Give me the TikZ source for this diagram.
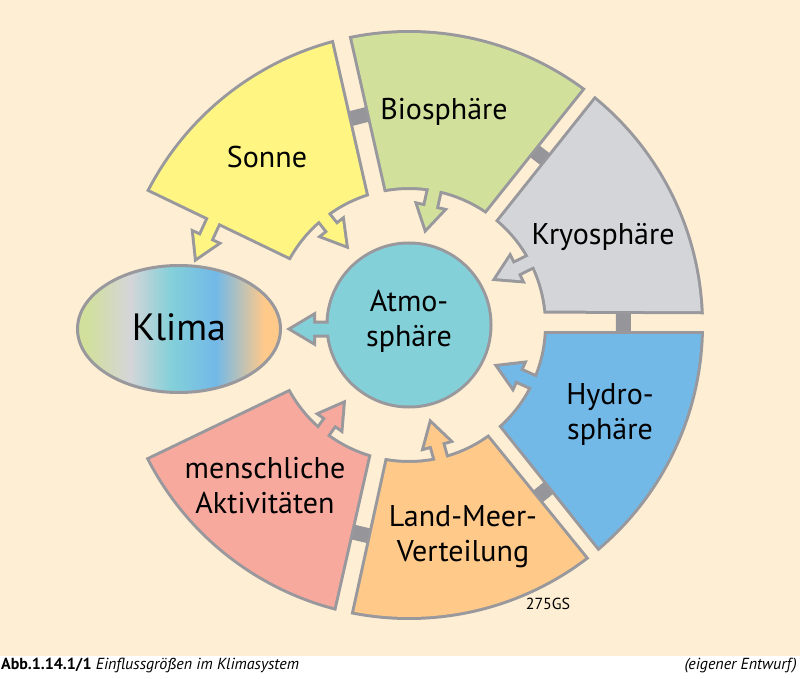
\documentclass[tikz,border=0pt]{standalone}
\usepackage{fontspec}
\setmainfont{PT Sans}
\usetikzlibrary{calc}
\definecolor{bgc}{RGB}{254,238,212}
\definecolor{sonnec}{RGB}{255,245,130}
\definecolor{bioc}{RGB}{209,224,155}
\definecolor{kryoc}{RGB}{212,213,217}
\definecolor{hydroc}{RGB}{114,185,232}
\definecolor{landc}{RGB}{255,201,138}
\definecolor{menschc}{RGB}{247,169,158}
\definecolor{atmoc}{RGB}{132,208,217}
\definecolor{edgec}{RGB}{152,152,157}
\definecolor{barc}{RGB}{150,150,154}
\pgfdeclarehorizontalshading{klimashade}{100bp}{color(0bp)=(bioc); color(27bp)=(bioc); color(38bp)=(kryoc); color(48bp)=(atmoc); color(59bp)=(hydroc); color(71bp)=(landc); color(100bp)=(landc)}
% sector: outer start, outer end, inner start, inner end (image angles)
\newcommand\secpath[4]{($(C)+(#1:292)$) arc[start angle=#1, end angle=#2, radius=292] -- ($(C)+(#3:138)$) arc[start angle=#3, end angle=#4, radius=138] -- cycle}
% arrow: base, tip
\newcommand\arrp[2]{($(#1)!5.5pt!90:(#2)$) -- ($(#2)!25pt!(#1)!5.5pt!90:(#2)$) -- ($(#2)!25pt!(#1)!12.5pt!90:(#2)$) -- ($(#2)!4pt!(#1)$) -- ($(#2)!25pt!(#1)!12.5pt!-90:(#2)$) -- ($(#2)!25pt!(#1)!5.5pt!-90:(#2)$) -- ($(#1)!5.5pt!-90:(#2)$) -- cycle}
\tikzset{
  outl/.style={draw=edgec, line width=6pt, line join=miter},
  lab/.style={font=\fontsize{30}{35}\selectfont, align=center, text=black, inner sep=0pt},
}
\begin{document}
\begin{tikzpicture}[x=1pt,y=-1pt]
\useasboundingbox (0,0) rectangle (800,679);
\fill[bgc] (0,0) rectangle (800,656);
\fill[white] (0,656) rectangle (800,679);
\coordinate (C) at (409,325);
% connecting bars
\foreach \a in {-104.3,-52.4,-0.7,51,103.3}
  \draw[barc, line width=15pt] ($(C)+({\a-7}:216)$) -- ($(C)+({\a+7}:216)$);
% Sonne
\draw[outl] \secpath{-152.4}{-105.4}{-108.3}{-150.3};
\draw[outl] \arrp{218,211}{195,261};
\draw[outl] \arrp{317,209}{348,248};
\fill[sonnec] \secpath{-152.4}{-105.4}{-108.3}{-150.3};
\fill[sonnec] \arrp{218,211}{195,261};
\fill[sonnec] \arrp{317,209}{348,248};
% Biosphaere
\draw[outl] \secpath{-101.2}{-53.8}{-56.5}{-99.5};
\draw[outl] \arrp{437,178}{425,232};
\fill[bioc] \secpath{-101.2}{-53.8}{-56.5}{-99.5};
\fill[bioc] \arrp{437,178}{425,232};
% Kryosphaere
\draw[outl] \secpath{-50.4}{-2.7}{-6.0}{-49.2};
\draw[outl] \arrp{542,256}{493,280};
\fill[kryoc] \secpath{-50.4}{-2.7}{-6.0}{-49.2};
\fill[kryoc] \arrp{542,256}{493,280};
% Hydrosphaere
\draw[outl] \secpath{1.8}{49.5}{47.4}{3.8};
\draw[outl] \arrp{544,387}{495,365};
\fill[hydroc] \secpath{1.8}{49.5}{47.4}{3.8};
\fill[hydroc] \arrp{544,387}{495,365};
% Land-Meer
\draw[outl] \secpath{52.9}{100.8}{99.1}{55.1};
\draw[outl] \arrp{444,470}{430,420};
\fill[landc] \secpath{52.9}{100.8}{99.1}{55.1};
\fill[landc] \arrp{444,470}{430,420};
% menschliche Aktivitaeten
\draw[outl] \secpath{104.9}{152.6}{150.7}{107.3};
\draw[outl] \arrp{315,443}{345,401};
\fill[menschc] \secpath{104.9}{152.6}{150.7}{107.3};
\fill[menschc] \arrp{315,443}{345,401};
% Atmosphaere
\draw[outl] (C) circle[radius=80.5];
\draw[outl] \arrp{335,329}{288,329};
\fill[atmoc] (C) circle[radius=80.5];
\fill[atmoc] \arrp{335,329}{288,329};
% Klima
\path[shade, shading=klimashade, draw=edgec, line width=3pt] (179,329) ellipse[x radius=101.5, y radius=63.5];
% labels
\node[lab] (sonne) at (267,157) {Sonne};
\node[lab] (bio) at (444,112) {Biosphäre};
\node[lab] (kryo) at (603,237) {Kryosphäre};
\node[lab] (hydro) at (610,414) {Hydro-\\sphäre};
\node[lab] (land) at (463,537) {Land-Meer-\\Verteilung};
\node[lab] (mensch) at (265,486) {menschliche\\Aktivitäten};
\node[lab] (atmo) at (409,321) {Atmo-\\sphäre};
\node[font=\fontsize{38}{40}\selectfont, inner sep=0pt] (klima) at (179,327) {Klima};
\node[font=\fontsize{16}{18}\selectfont, inner sep=0pt] (code) at (548,604) {275GS};
\node[anchor=base west, font=\fontsize{16}{18}\selectfont, inner sep=0pt] (cap) at (1,669) {\textbf{Abb.1.14.1/1} \textit{Einflussgrößen im Klimasystem}};
\node[anchor=base east, font=\fontsize{16}{18}\selectfont, inner sep=0pt] (src) at (797,669) {\textit{(eigener Entwurf)}};
\end{tikzpicture}
\end{document}
